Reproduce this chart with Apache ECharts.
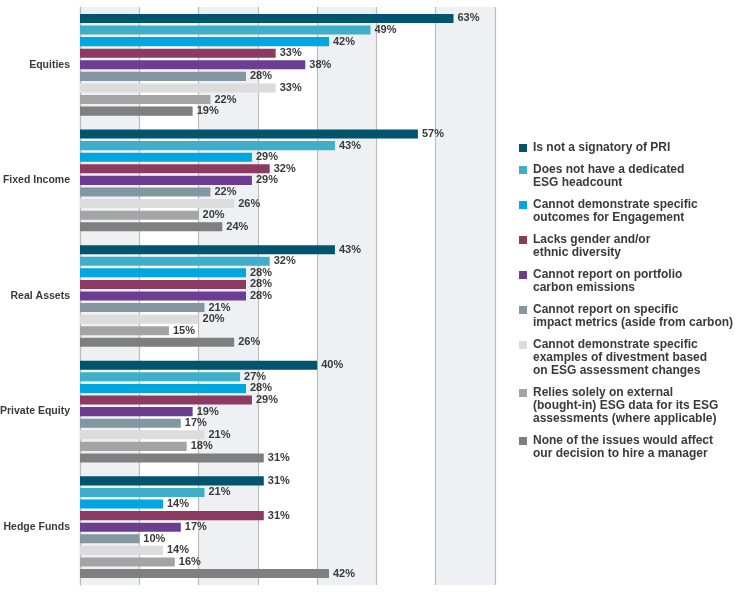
<!DOCTYPE html>
<html>
  <head>
    <meta charset="utf-8" />
    <title>ESG issues by asset class</title>
    <script src="https://cdn.jsdelivr.net/npm/echarts@6/dist/echarts.min.js"></script>
    <style>
      html, body { margin: 0; padding: 0; background: #fff; }
    </style>
  </head>
  <body>
    <div id="chartContainer" style="width: 752px;height:604px;"></div>
    <script>
        // asset classes, top to bottom
        var categories = ['Equities', 'Fixed Income', 'Real Assets', 'Private Equity', 'Hedge Funds'];

        // legend text, already broken into lines as in the original
        var issueLines = [
          ['Is not a signatory of PRI'],
          ['Does not have a dedicated', 'ESG headcount'],
          ['Cannot demonstrate specific', 'outcomes for Engagement'],
          ['Lacks gender and/or', 'ethnic diversity'],
          ['Cannot report on portfolio', 'carbon emissions'],
          ['Cannot report on specific', 'impact metrics (aside from carbon)'],
          ['Cannot demonstrate specific', 'examples of divestment based', 'on ESG assessment changes'],
          ['Relies solely on external', '(bought-in) ESG data for its ESG', 'assessments (where applicable)'],
          ['None of the issues would affect', 'our decision to hire a manager']
        ];

        // % per asset class, one array per issue
        var notSignatory   = [63, 57, 43, 40, 31];
        var noEsgHeadcount = [49, 43, 32, 27, 21];
        var noEngagement   = [42, 29, 28, 28, 14];
        var lacksDiversity = [33, 32, 28, 29, 31];
        var noCarbon       = [38, 29, 28, 19, 17];
        var noImpact       = [28, 22, 21, 17, 10];
        var noDivestment   = [33, 26, 20, 21, 14];
        var externalData   = [22, 20, 15, 18, 16];
        var noneAffect     = [19, 24, 26, 31, 42];

        var values = [notSignatory, noEsgHeadcount, noEngagement, lacksDiversity,
                      noCarbon, noImpact, noDivestment, externalData, noneAffect];

        var colors = ['#00546e', '#3fafc9', '#00a6e0', '#8b3a62', '#6c3d91',
                      '#8496a0', '#dcdcdc', '#a4a4a4', '#7f7f7f'];

        var names = issueLines.map(l => l.join(' '));
        var font = '"Liberation Sans", Arial, Helvetica, sans-serif';

        var rich = {
          g: { width: 6 },
          ind: { width: 14 },
          t: { fontFamily: font, fontSize: 12, fontWeight: 'bold', color: '#3a3a3a', lineHeight: 13 }
        };
        colors.forEach((c, i) => {
          rich['c' + i] = { width: 8, height: 8, backgroundColor: c };
        });

        var myChart = echarts.init(document.getElementById('chartContainer'));

        var option = {
          animation: false,
          color: colors,
          textStyle: { fontFamily: font },
          grid: { left: 80, right: 257, top: 7, bottom: 19, containLabel: false, outerBoundsMode: 'none' },
          legend: {
            orient: 'vertical',
            left: 509,
            top: 137,
            icon: 'none',
            itemWidth: 0,
            itemHeight: 8,
            itemGap: 10,
            selectedMode: false,
            data: names,
            formatter: function (name) {
              var i = names.indexOf(name);
              var lines = issueLines[i];
              var s = '{c' + i + '|}{g|}{t|' + lines[0] + '}';
              lines.slice(1).forEach(l => { s += '\n{ind|}{t|' + l + '}'; });
              return s;
            },
            textStyle: { rich: rich }
          },
          xAxis: {
            type: 'value',
            min: 0,
            max: 70,
            interval: 10,
            axisLabel: { show: false },
            axisTick: { show: false },
            axisLine: { show: false },
            splitLine: { show: true, lineStyle: { color: '#bcbcbc', width: 1.2 } },
            splitArea: { show: true, areaStyle: { color: ['#eef0f4', '#ffffff'] } }
          },
          yAxis: {
            type: 'category',
            inverse: true,
            data: categories,
            axisTick: { show: false },
            axisLine: { show: true, lineStyle: { color: '#bcbcbc', width: 1.2 } },
            axisLabel: { fontFamily: font, fontSize: 10.5, fontWeight: 'bold', color: '#3a3a3a', margin: 10 }
          },
          series: values.map((v, i) => ({
            name: names[i],
            type: 'bar',
            data: v,
            barCategoryGap: '12%',
            barGap: '28%',
            label: {
              show: true,
              position: 'right',
              distance: 4,
              formatter: '{c}%',
              fontFamily: font,
              fontSize: 11,
              fontWeight: 'bold',
              color: '#3a3a3a'
            }
          }))
        };

        myChart.setOption(option);
    </script>
  </body>
</html>
